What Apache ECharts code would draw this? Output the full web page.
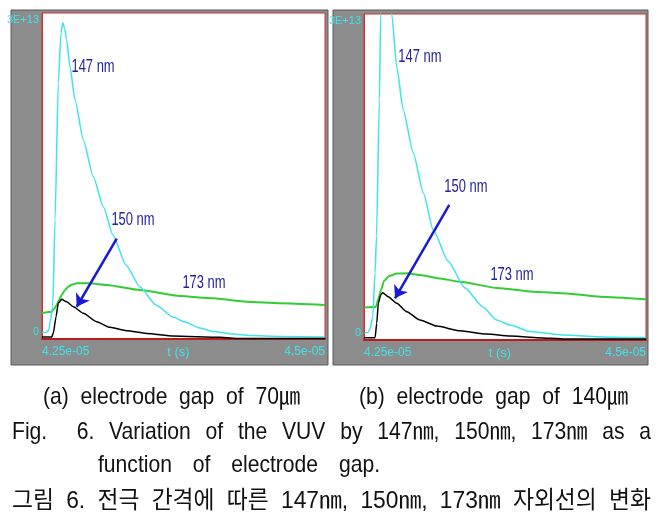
<!DOCTYPE html>
<html><head><meta charset="utf-8">
<script src="https://cdn.jsdelivr.net/npm/echarts@6/dist/echarts.min.js"></script>
<style>html,body{margin:0;padding:0;background:#fff}#c{width:667px;height:525px}</style>
</head><body><div id="c"></div>
<script>
// time in microseconds (axis labels shown in seconds), intensity in units of 1E+13
const xTickValues = [42.5, 45.0];
const xTickLabels = ['4.25e-05', '4.5e-05'];
const yTickValues = [0, 3];
const yTickLabels = ['0', '3E+13'];
const xAxisName = 't (s)';
const seriesNames = ['147 nm', '150 nm', '173 nm'];
const captionA = ['(a)', 'electrode', 'gap', 'of', '70㎛'];
const captionB = ['(b)', 'electrode', 'gap', 'of', '140㎛'];
const figLine1 = ['Fig.', '6.', 'Variation', 'of', 'the', 'VUV', 'by', '147㎚,', '150㎚,', '173㎚', 'as', 'a'];
const figLine2 = ['function', 'of', 'electrode', 'gap.'];
const figLineKo = ['그림', '6.', '전극', '간격에', '따른', '147㎚,', '150㎚,', '173㎚', '자외선의', '변화'];

// (a) 70 um gap
const a147_t = [42.500,42.544,42.562,42.571,42.595,42.615,42.644,42.668,42.683,42.699,42.718,42.747,42.792,42.865,42.953,43.042,43.127,43.242,43.366,43.507,43.657,43.763,43.896,44.011,44.187,44.337,44.603,45.000];
const a147_v = [-0.005,0,0.029,0.096,0.243,1.077,2.394,2.875,2.974,2.923,2.808,2.551,2.231,1.846,1.493,1.205,0.933,0.644,0.433,0.260,0.144,0.096,0.038,0.005,-0.019,-0.034,-0.043,-0.048];
const a150_t = [42.500,42.586,42.600,42.624,42.644,42.674,42.718,42.777,42.865,42.983,43.101,43.248,43.425,43.660,44.072,44.249,45.000];
const a150_v = [-0.048,-0.048,-0.010,0.147,0.279,0.314,0.291,0.243,0.180,0.099,0.045,0.013,-0.013,-0.038,-0.051,-0.063,-0.063];
const a173_t = [42.500,42.586,42.606,42.630,42.650,42.674,42.703,42.732,42.765,42.807,42.924,43.072,43.366,43.719,44.011,44.308,44.603,45.000];
const a173_v = [0.183,0.195,0.221,0.260,0.308,0.356,0.404,0.436,0.457,0.468,0.468,0.452,0.404,0.346,0.324,0.291,0.276,0.260];

// (b) 140 um gap
const b147_t = [42.503,42.535,42.553,42.577,42.598,42.611,42.636,42.648,42.664,42.686,42.713,42.746,42.790,42.848,42.937,43.026,43.114,43.245,43.395,43.555,43.676,43.794,43.972,44.264,44.707,45.000];
const b147_v = [0.003,0.005,0.038,0.154,0.577,0.933,2.240,3.067,3.394,3.538,3.394,3.067,2.560,2.144,1.731,1.346,0.990,0.692,0.433,0.250,0.125,0.077,0.014,-0.019,-0.041,-0.043];
const b150_t = [42.503,42.598,42.613,42.627,42.648,42.666,42.715,42.790,42.879,42.996,43.144,43.351,43.588,43.794,44.149,44.326,45.000];
const b150_v = [-0.045,-0.045,0.093,0.286,0.365,0.387,0.349,0.286,0.205,0.125,0.067,0.022,-0.010,-0.029,-0.051,-0.058,-0.058];
const b173_t = [42.503,42.606,42.627,42.651,42.677,42.722,42.793,42.890,42.996,43.174,43.351,43.679,43.998,44.299,44.592,45.000];
const b173_v = [0.245,0.253,0.327,0.413,0.500,0.548,0.572,0.574,0.558,0.524,0.493,0.433,0.397,0.380,0.349,0.324];

const zip = (t, v) => t.map((x, i) => [x, v[i]]);

const cyan = '#3fe3ea', green = '#33cc33', black = '#000000';
const labelBlue = '#22229e', arrowBlue = '#1a1ad0';
const sans = "'Liberation Sans','Noto Sans CJK KR',sans-serif";

function xAxis(gi) {
  return {
    type: 'value', gridIndex: gi, min: 42.5, max: 45,
    axisLine: { show: true, onZero: false, lineStyle: { color: '#b81c1c', width: 2 } },
    axisTick: { show: false }, splitLine: { show: false },
    axisLabel: {
      customValues: xTickValues, color: cyan, fontFamily: sans, fontSize: 12, margin: 7,
      alignMinLabel: 'left', alignMaxLabel: 'right',
      formatter: v => xTickLabels[xTickValues.indexOf(v)] ?? ''
    },
    name: xAxisName, nameLocation: 'middle', nameGap: 7, nameMoveOverlap: false,
    nameTextStyle: { color: cyan, fontFamily: sans, fontSize: 13, verticalAlign: 'top', padding: [0, 10, 0, 0] }
  };
}
function yAxis(gi) {
  return {
    type: 'value', gridIndex: gi, min: -0.067, max: 3.067,
    axisLine: { show: true, onZero: false, lineStyle: { color: '#d03030', width: 1 } },
    axisTick: { show: false }, splitLine: { show: false },
    axisLabel: {
      customValues: yTickValues, color: cyan, fontFamily: sans, fontSize: 11, margin: 3,
      formatter: v => yTickLabels[yTickValues.indexOf(v)] ?? ''
    }
  };
}
function line(gi, data, color, width, arrow) {
  const s = {
    type: 'line', xAxisIndex: gi, yAxisIndex: gi, data, showSymbol: false,
    smooth: 0.2, smoothMonotone: 'x', clip: true,
    lineStyle: { color, width }, itemStyle: { color }, z: 3
  };
  if (arrow) {
    s.markLine = {
      silent: true, symbol: ['none', 'arrow'], symbolSize: 12,
      lineStyle: { color: arrowBlue, width: 2.5, type: 'solid' }, itemStyle: { color: arrowBlue },
      label: { show: false },
      data: [[{ coord: arrow[0] }, { coord: arrow[1] }]]
    };
  }
  return s;
}

const chart = echarts.init(document.getElementById('c'));
chart.setOption({
  animation: false,
  grid: [
    { left: 42, top: 13, width: 283, height: 326, show: true, backgroundColor: '#fff', borderColor: '#d03030', borderWidth: 1 },
    { left: 364, top: 14, width: 282, height: 326, show: true, backgroundColor: '#fff', borderColor: '#d03030', borderWidth: 1 }
  ],
  xAxis: [xAxis(0), xAxis(1)],
  yAxis: [yAxis(0), yAxis(1)],
  series: [
    line(0, zip(a173_t, a173_v), green, 2),
    line(0, zip(a147_t, a147_v), cyan, 1.5),
    line(0, zip(a150_t, a150_v), black, 1.5, [[43.160, 0.897], [42.807, 0.243]]),
    line(1, zip(b173_t, b173_v), green, 2),
    line(1, zip(b147_t, b147_v), cyan, 1.5),
    line(1, zip(b150_t, b150_v), black, 1.5, [[43.256, 1.231], [42.775, 0.334]])
  ]
});

// annotation labels placed in data coordinates, drawn condensed
const annotations = [
  { g: 0, text: seriesNames[0], at: [42.951, 2.548] },
  { g: 0, text: seriesNames[1], at: [43.304, 1.077] },
  { g: 0, text: seriesNames[2], at: [43.931, 0.471] },
  { g: 1, text: seriesNames[0], at: [42.996, 2.654] },
  { g: 1, text: seriesNames[1], at: [43.404, 1.404] },
  { g: 1, text: seriesNames[2], at: [43.812, 0.558] }
];
const els = [
  { type: 'rect', z: -100, shape: { x: 11, y: 10, width: 317, height: 355 }, style: { fill: '#8c8c8c', stroke: '#5a5a5a', lineWidth: 1 } },
  { type: 'rect', z: -100, shape: { x: 333, y: 10, width: 315, height: 355 }, style: { fill: '#8c8c8c', stroke: '#5a5a5a', lineWidth: 1 } }
];
annotations.forEach(a => {
  const p = chart.convertToPixel({ gridIndex: a.g }, a.at);
  els.push({ type: 'text', x: p[0], y: p[1], scaleX: 0.72, z: 10,
    style: { text: a.text, font: '18px ' + sans, fill: labelBlue, align: 'center', verticalAlign: 'middle' } });
});

const ctx = document.createElement('canvas').getContext('2d');
function justify(words, x0, x1, yc, size, sx, weights) {
  const font = size + 'px ' + sans;
  ctx.font = font;
  const ws = words.map(w => ctx.measureText(w).width * sx);
  const total = ws.reduce((a, b) => a + b, 0);
  const gw = weights || words.slice(1).map(() => 1);
  const unit = (x1 - x0 - total) / gw.reduce((a, b) => a + b, 0);
  let x = x0;
  words.forEach((w, i) => {
    els.push({ type: 'text', x, y: yc, scaleX: sx,
      style: { text: w, font, fill: '#111', align: 'left', verticalAlign: 'middle' } });
    x += ws[i] + (i < gw.length ? gw[i] * unit : 0);
  });
}
justify(captionA, 43, 300, 397, 24, 0.88);
justify(captionB, 359, 628, 397, 24, 0.88);
justify(figLine1, 12, 651, 432, 24, 0.88, [2,1,1,1,1,1,1,1,1,1,1]);
justify(figLine2, 98, 380, 465, 24, 0.88);
justify(figLineKo, 12, 651, 501, 24, 0.95);

chart.setOption({ graphic: { elements: els } });
</script></body></html>
